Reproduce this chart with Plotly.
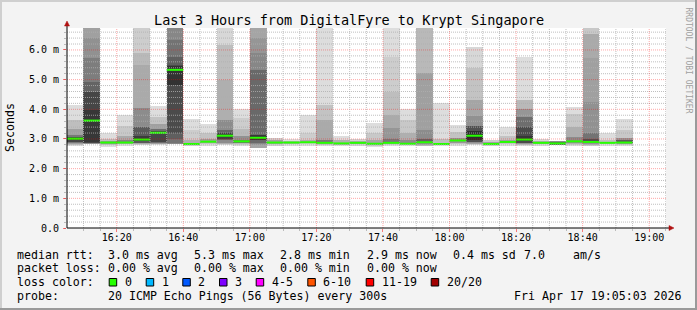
import plotly.graph_objects as go
from datetime import datetime, timedelta

# ---------------- data ----------------
DAY = "2026-04-17"
RANGE_START = "16:05:03"
RANGE_END = "19:05:03"
STEP_S = 300

bin_start = ["16:05", "16:10", "16:15", "16:20", "16:25", "16:30", "16:35", "16:40",
             "16:45", "16:50", "16:55", "17:00", "17:05", "17:10", "17:15", "17:20",
             "17:25", "17:30", "17:35", "17:40", "17:45", "17:50", "17:55", "18:00",
             "18:05", "18:10", "18:15", "18:20", "18:25", "18:30", "18:35", "18:40",
             "18:45", "18:50"]

median_ms = [3.01, 3.62, 2.88, 2.88, 2.98, 3.21, 5.33, 2.83, 2.91, 3.11, 2.92, 3.04,
             2.88, 2.88, 2.89, 2.87, 2.85, 2.87, 2.84, 2.87, 2.84, 2.89, 2.83, 2.95,
             3.11, 2.83, 2.90, 2.98, 2.87, 2.85, 2.92, 2.90, 2.87, 2.88]

# smoke bands per bin: (low ms, high ms, gray level), outer band first
smoke_bands = [
    [(2.76, 4.15, 221), (2.80, 3.64, 190), (2.84, 3.35, 160), (2.86, 3.15, 120), (2.90, 3.06, 70)],
    [(2.83, 6.90, 160), (2.84, 6.39, 145), (2.85, 5.72, 125), (2.86, 4.93, 100), (2.87, 4.60, 70), (2.90, 3.98, 55)],
    [(2.74, 3.20, 221), (2.80, 3.00, 190), (2.84, 2.93, 150)],
    [(2.78, 3.81, 221), (2.82, 3.45, 200), (2.84, 3.10, 170), (2.86, 2.95, 130)],
    [(2.80, 6.90, 205), (2.82, 5.89, 185), (2.84, 5.50, 170), (2.86, 4.03, 140), (2.88, 3.41, 90), (2.92, 3.10, 60)],
    [(2.80, 4.11, 221), (2.82, 3.75, 195), (2.84, 3.50, 160), (2.86, 3.35, 110), (2.90, 3.28, 70)],
    [(2.83, 6.90, 135), (2.86, 6.35, 115), (3.00, 5.77, 95), (3.19, 5.50, 75), (4.82, 5.45, 50)],
    [(2.75, 3.67, 221), (2.78, 3.30, 205), (2.80, 2.95, 175)],
    [(2.78, 3.50, 221), (2.82, 3.20, 195), (2.85, 3.00, 160)],
    [(2.80, 6.90, 215), (2.82, 6.17, 190), (2.84, 5.00, 175), (2.88, 3.64, 140), (2.95, 3.30, 100), (3.00, 3.20, 65)],
    [(2.78, 4.00, 221), (2.80, 3.70, 205), (2.83, 3.35, 185), (2.86, 3.10, 145), (2.88, 2.98, 110)],
    [(2.70, 6.90, 165), (2.80, 6.40, 150), (2.83, 5.90, 135), (2.86, 5.33, 105), (2.95, 3.13, 55)],
    [(2.77, 3.02, 205), (2.82, 2.95, 160)],
    [(2.78, 3.00, 221), (2.83, 2.93, 180)],
    [(2.78, 3.81, 221), (2.82, 3.20, 205), (2.85, 2.97, 170)],
    [(2.78, 6.90, 221), (2.80, 4.15, 195), (2.83, 3.64, 170), (2.85, 2.98, 120)],
    [(2.75, 3.10, 221), (2.80, 2.95, 175)],
    [(2.78, 3.00, 210), (2.82, 2.93, 170)],
    [(2.72, 3.55, 221), (2.76, 3.20, 200), (2.80, 2.95, 165)],
    [(2.78, 6.90, 221), (2.80, 5.77, 205), (2.82, 4.60, 190), (2.84, 3.81, 170), (2.85, 3.37, 150), (2.86, 3.00, 120)],
    [(2.76, 4.01, 221), (2.80, 3.64, 200), (2.82, 3.20, 175), (2.84, 2.95, 140)],
    [(2.78, 6.90, 185), (2.80, 5.22, 160), (2.84, 3.30, 140), (2.86, 3.00, 100)],
    [(2.76, 4.22, 221), (2.80, 3.00, 190)],
    [(2.78, 3.47, 221), (2.82, 3.25, 195), (2.86, 3.05, 150)],
    [(2.80, 6.09, 215), (2.82, 5.39, 195), (2.84, 4.31, 165), (2.86, 3.77, 145), (2.90, 3.45, 80), (2.95, 3.28, 45)],
    [(2.75, 2.98, 205), (2.80, 2.90, 160)],
    [(2.78, 3.39, 221), (2.82, 3.10, 195), (2.85, 2.97, 160)],
    [(2.78, 5.77, 221), (2.80, 4.31, 185), (2.83, 4.00, 150), (2.85, 3.75, 110), (2.88, 3.41, 75), (2.92, 3.10, 55)],
    [(2.78, 3.00, 215), (2.82, 2.94, 170)],
    [(2.80, 2.92, 140), (2.83, 2.89, 90)],
    [(2.78, 4.07, 221), (2.80, 3.85, 200), (2.83, 3.40, 175), (2.86, 3.06, 140)],
    [(2.78, 6.90, 200), (2.80, 6.55, 170), (2.82, 5.73, 160), (2.84, 4.26, 145), (2.86, 3.19, 115), (2.88, 3.00, 80)],
    [(2.76, 3.19, 221), (2.82, 2.97, 190)],
    [(2.78, 3.67, 221), (2.80, 3.30, 200), (2.84, 3.05, 150), (2.86, 2.95, 90)],
]

y_tick_vals = [0, 1, 2, 3, 4, 5, 6]
y_tick_text = ["0.0", "1.0 m", "2.0 m", "3.0 m", "4.0 m", "5.0 m", "6.0 m"]
Y_MAX = 6.74

title_text = "Last 3 Hours from DigitalFyre to Krypt Singapore"
row_rtt = [("median rtt:", 16), ("3.0 ms avg", 107.3), ("5.3 ms max", 193.3), ("2.8 ms min", 279),
           ("2.9 ms now", 366), ("0.4 ms sd", 451.7), ("7.0", 523.3), ("am/s", 571.7)]
row_loss = [("packet loss:", 16), ("0.00 % avg", 107.3), ("0.00 % max", 193.3),
            ("0.00 % min", 279), ("0.00 % now", 366)]
loss_labels = ["0", "1", "2", "3", "4-5", "6-10", "11-19", "20/20"]
loss_colors = ["#26ff00", "#00b8ff", "#0059ff", "#7e00ff", "#ff00ff", "#ff5500", "#ff0000", "#a10000"]
loss_swatch_x = [108.7, 145.7, 182.3, 219.0, 255.7, 307.3, 365.7, 430.7]
probe_text = "20 ICMP Echo Pings (56 Bytes) every 300s"
stamp_text = "Fri Apr 17 19:05:03 2026"

# ---------------- geometry helpers (pixel -> paper) ----------------
W, H = 697, 310
PL, PR, PT, PB = 67, 666, 28, 228
def px(x):
    return (x - PL) / (PR - PL)
def py(y):
    return (PB - y) / (PB - PT)

def t(hm):
    return datetime.strptime(f"{DAY} {hm}", "%Y-%m-%d %H:%M")

x_start = [t(h) for h in bin_start]
x_mid = [s + timedelta(seconds=STEP_S / 2) for s in x_start]

fig = go.Figure()

# smoke
levels = max(len(b) for b in smoke_bands)
for k in range(levels):
    xs, bases, hs, cols = [], [], [], []
    for i, b in enumerate(smoke_bands):
        if len(b) > k:
            lo, hi, g = b[k]
            xs.append(x_mid[i]); bases.append(lo); hs.append(hi - lo)
            cols.append(f"rgb({g},{g},{g})")
    fig.add_trace(go.Bar(x=xs, y=hs, base=bases, width=STEP_S * 1000,
                         marker=dict(color=cols, line=dict(width=0)),
                         hoverinfo="skip", showlegend=False))

# median
mx, my = [], []
for s, m in zip(x_start, median_ms):
    mx += [s, s + timedelta(seconds=STEP_S), None]
    my += [m, m, None]
fig.add_trace(go.Scatter(x=mx, y=my, mode="lines", line=dict(color=loss_colors[0], width=2),
                         hoverinfo="skip", showlegend=False))

shapes = []
# grid above traces
MINOR = "rgba(175,175,175,0.8)"
MAJOR = "rgba(255,0,0,0.35)"
for k in range(1, int(Y_MAX / 0.2) + 1):
    v = k * 0.2
    col = MAJOR if k % 5 == 0 else MINOR
    shapes.append(dict(type="line", xref="paper", yref="y", x0=0, x1=1, y0=v, y1=v,
                       line=dict(color=col, width=1, dash="1px,1px"), layer="above"))
gt = t("16:10")
gend = datetime.strptime(f"{DAY} {RANGE_END}", "%Y-%m-%d %H:%M:%S")
while gt <= gend:
    col = MAJOR if gt.minute % 20 == 0 else MINOR
    shapes.append(dict(type="line", xref="x", yref="paper", x0=gt, x1=gt, y0=0, y1=1,
                       line=dict(color=col, width=1, dash="1px,1px"), layer="above"))
    gt += timedelta(seconds=STEP_S)

# axis lines and arrows
shapes.append(dict(type="line", xref="paper", yref="paper", x0=px(67), x1=px(67), y0=py(228), y1=py(25),
                   line=dict(color="#000", width=1), layer="above"))
shapes.append(dict(type="line", xref="paper", yref="paper", x0=px(67), x1=px(670), y0=py(228), y1=py(228),
                   line=dict(color="#000", width=1), layer="above"))
ARROW = "#b01010"
shapes.append(dict(type="path", xref="paper", yref="paper",
                   path=f"M {px(64.5)} {py(26)} L {px(69.5)} {py(26)} L {px(67)} {py(21)} Z",
                   fillcolor=ARROW, line=dict(color=ARROW, width=0.5), layer="above"))
shapes.append(dict(type="path", xref="paper", yref="paper",
                   path=f"M {px(669)} {py(225.5)} L {px(669)} {py(230.5)} L {px(674)} {py(228)} Z",
                   fillcolor=ARROW, line=dict(color=ARROW, width=0.5), layer="above"))

# frame
shapes.append(dict(type="rect", xref="paper", yref="paper", x0=px(0), x1=px(W), y0=py(0), y1=py(2),
                   fillcolor="#cfcfcf", line=dict(width=0), layer="above"))
shapes.append(dict(type="rect", xref="paper", yref="paper", x0=px(0), x1=px(2), y0=py(0), y1=py(H),
                   fillcolor="#cfcfcf", line=dict(width=0), layer="above"))
shapes.append(dict(type="rect", xref="paper", yref="paper", x0=px(0), x1=px(W), y0=py(H - 2), y1=py(H),
                   fillcolor="#9a9a9a", line=dict(width=0), layer="above"))
shapes.append(dict(type="rect", xref="paper", yref="paper", x0=px(W - 2), x1=px(W), y0=py(0), y1=py(H),
                   fillcolor="#9a9a9a", line=dict(width=0), layer="above"))

# loss color swatches
for sx, c in zip(loss_swatch_x, loss_colors):
    shapes.append(dict(type="rect", xref="paper", yref="paper", x0=px(sx + 0.5), x1=px(sx + 8),
                       y0=py(278.5), y1=py(286), fillcolor=c, line=dict(color="#000", width=1)))

MONO = "DejaVu Sans Mono"
anns = []
def text(x, y, s, size=11.6, xanchor="left", color="#000", angle=0):
    anns.append(dict(xref="paper", yref="paper", x=px(x), y=py(y), text=s, showarrow=False,
                     xanchor=xanchor, yanchor="middle", borderpad=0, textangle=angle,
                     font=dict(family=MONO, size=size, color=color)))

text(348.5, 19.5, title_text, size=13.5, xanchor="center")
text(10, 128, "Seconds", size=11.6, xanchor="center", angle=-90)
text(688.5, 60, "RRDTOOL / TOBI OETIKER", size=8, xanchor="center", color="#a0a0a0", angle=90)
for s, x in row_rtt:
    text(x, 254.7, s)
for s, x in row_loss:
    text(x, 268.3, s)
text(16, 282.3, "loss color:")
for sx, lab in zip(loss_swatch_x, loss_labels):
    text(sx + 15, 282.3, lab)
text(16, 296, "probe:")
text(107.3, 296, probe_text)
text(513.3, 296, stamp_text)

fig.update_layout(
    width=W, height=H,
    margin=dict(l=PL, r=W - PR, t=PT, b=H - PB, pad=0),
    paper_bgcolor="#f3f3f3", plot_bgcolor="#ffffff",
    barmode="overlay", bargap=0, showlegend=False,
    font=dict(family=MONO, size=10, color="#000"),
    shapes=shapes, annotations=anns,
    xaxis=dict(type="date",
               range=[f"{DAY} {RANGE_START}", f"{DAY} {RANGE_END}"],
               tick0=f"{DAY} 16:00", dtick=20 * 60 * 1000, tickformat="%H:%M",
               showgrid=False, zeroline=False, showline=False,
               ticks="outside", ticklen=3, tickcolor="rgba(255,0,0,0.5)",
               ticklabelstandoff=-3,
               minor=dict(dtick=STEP_S * 1000, ticks="outside", ticklen=2,
                          tickcolor="#bbbbbb", showgrid=False),
               tickfont=dict(family=MONO, size=10), fixedrange=True),
    yaxis=dict(range=[0, Y_MAX], tickvals=y_tick_vals, ticktext=y_tick_text,
               showgrid=False, zeroline=False, showline=False,
               ticks="outside", ticklen=3, tickcolor="rgba(255,0,0,0.5)",
               ticklabelstandoff=2,
               minor=dict(dtick=0.2, tick0=0, ticks="outside", ticklen=2,
                          tickcolor="#bbbbbb", showgrid=False),
               tickfont=dict(family=MONO, size=10), fixedrange=True),
)

fig.write_html("out.html")
